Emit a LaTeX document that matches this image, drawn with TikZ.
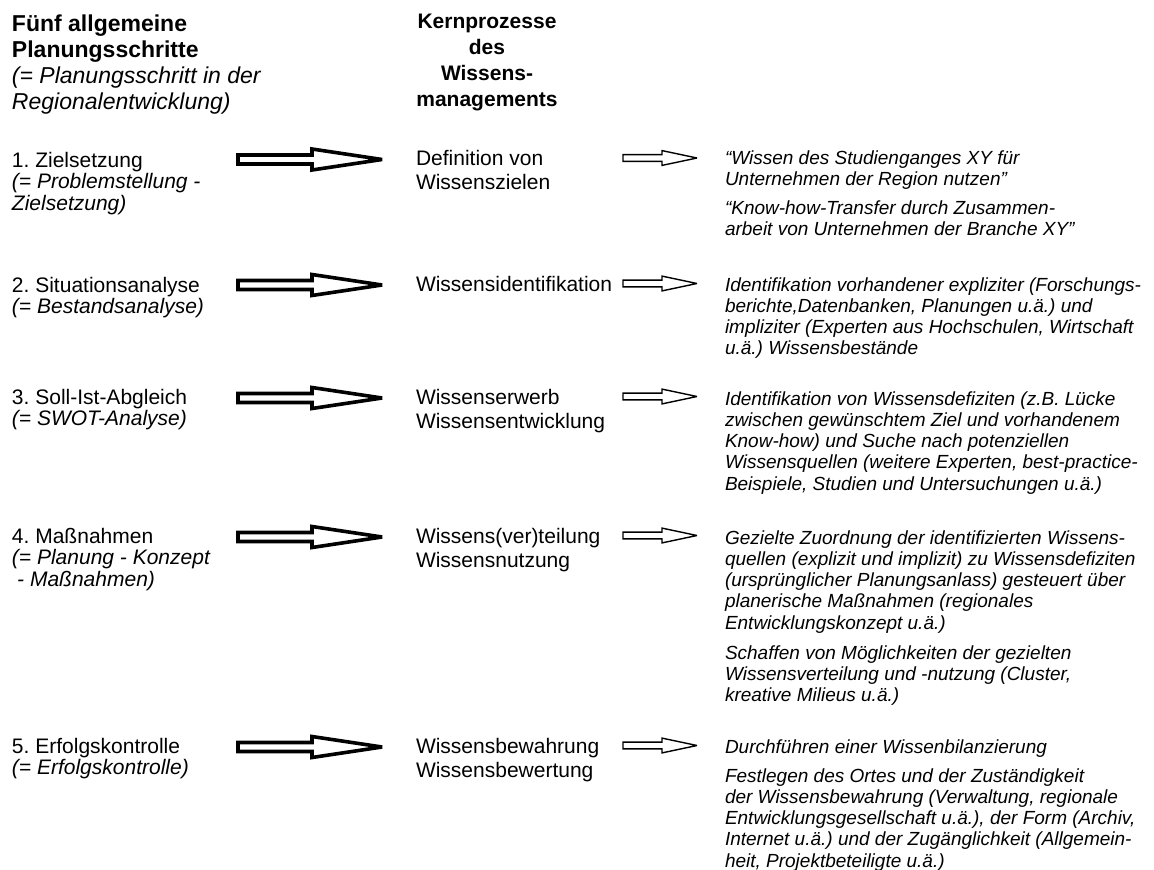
\documentclass[tikz,border=0pt]{standalone}
\usepackage{fontspec}
\setmainfont{Liberation Sans}
% multi-line blocks whose baseline is the first line
\newcommand{\lns}[1]{\begin{tabular}[t]{@{}l@{}}#1\end{tabular}}
\newcommand{\clns}[1]{\begin{tabular}[t]{@{}c@{}}#1\end{tabular}}
\begin{document}
\frenchspacing
\begin{tikzpicture}[x=1pt,y=-1pt,
  every node/.style={inner sep=0pt, outer sep=0pt},
  head/.style={anchor=base, font=\fontsize{21}{26}\selectfont\bfseries},
  headl/.style={anchor=base west, font=\fontsize{23}{26}\selectfont},
  step text/.style={anchor=base west, font=\fontsize{21}{21}\selectfont},
  core text/.style={anchor=base west, font=\fontsize{21}{24}\selectfont},
  note text/.style={anchor=base west, font=\fontsize{19}{21.3}\selectfont\itshape},
  bigblock/.pic={\draw[line width=3.6pt, line join=miter, miter limit=4]
      (0,-4.5) -- (74,-4.5) -- (74,-10.5) -- (144,0) -- (74,10.5) -- (74,4.5) -- (0,4.5) -- cycle;},
  smallblock/.pic={\draw[line width=1.4pt, line join=miter, miter limit=4]
      (0,-3.4) -- (39,-3.4) -- (39,-7.4) -- (74,0) -- (39,7.4) -- (39,3.4) -- (0,3.4) -- cycle;}
]
\useasboundingbox (0,0) rectangle (1154,870);

% column headings
\node[headl] (hL) at (12,31.5) {\lns{\textbf{Fünf allgemeine}\\\textbf{Planungsschritte}\\\textit{(= Planungsschritt in der}\\\textit{Regionalentwicklung)}}};
\node[head] (hM) at (487,28) {\clns{Kernprozesse\\des\\Wissens-\\managements}};

% planning steps
\node[step text] (s1) at (12,167) {\lns{1. Zielsetzung\\\textit{(= Problemstellung -}\\\textit{Zielsetzung)}}};
\node[step text] (s2) at (12,292) {\lns{2. Situationsanalyse\\\textit{(= Bestandsanalyse)}}};
\node[step text] (s3) at (12,404) {\lns{3. Soll-Ist-Abgleich\\\textit{(= SWOT-Analyse)}}};
\node[step text] (s4) at (12,543) {\lns{4. Maßnahmen\\\textit{(= Planung - Konzept}\\\textit{\hspace{0.25em}- Maßnahmen)}}};
\node[step text] (s5) at (12,753) {\lns{5. Erfolgskontrolle\\\textit{(= Erfolgskontrolle)}}};

% core processes
\node[core text] (k1) at (416,165) {\lns{Definition von\\Wissenszielen}};
\node[core text] (k2) at (416,291) {\lns{Wissensidentifikation}};
\node[core text] (k3) at (416,404) {\lns{Wissenserwerb\\Wissensentwicklung}};
\node[core text] (k4) at (416,543) {\lns{Wissens(ver)teilung\\Wissensnutzung}};
\node[core text] (k5) at (416,753) {\lns{Wissensbewahrung\\Wissensbewertung}};

% examples
\node[note text] (n1a) at (725,164) {\lns{“Wissen des Studienganges XY für\\Unternehmen der Region nutzen”}};
\node[note text] (n1b) at (725,214) {\lns{“Know-how-Transfer durch Zusammen-\\arbeit von Unternehmen der Branche XY”}};
\node[note text] (n2) at (725,291) {\lns{Identifikation vorhandener expliziter (Forschungs-\\berichte,Datenbanken, Planungen u.ä.) und\\impliziter (Experten aus Hochschulen, Wirtschaft\\u.ä.) Wissensbestände}};
\node[note text] (n3) at (725,405) {\lns{Identifikation von Wissensdefiziten (z.B. Lücke\\zwischen gewünschtem Ziel und vorhandenem\\Know-how) und Suche nach potenziellen\\Wissensquellen (weitere Experten, best-practice-\\Beispiele, Studien und Untersuchungen u.ä.)}};
\node[note text] (n4a) at (725,544) {\lns{Gezielte Zuordnung der identifizierten Wissens-\\quellen (explizit und implizit) zu Wissensdefiziten\\(ursprünglicher Planungsanlass) gesteuert über\\planerische Maßnahmen (regionales\\Entwicklungskonzept u.ä.)}};
\node[note text] (n4b) at (725,659) {\lns{Schaffen von Möglichkeiten der gezielten\\Wissensverteilung und -nutzung (Cluster,\\kreative Milieus u.ä.)}};
\node[note text] (n5a) at (725,753) {\lns{Durchführen einer Wissenbilanzierung}};
\node[note text] (n5b) at (725,782) {\lns{Festlegen des Ortes und der Zuständigkeit\\der Wissensbewahrung (Verwaltung, regionale\\Entwicklungsgesellschaft u.ä.), der Form (Archiv,\\Internet u.ä.) und der Zugänglichkeit (Allgemein-\\heit, Projektbeteiligte u.ä.)}};

% block arrows: step -> core process -> example
\foreach \r/\y in {1/159.5,2/285,3/398,4/537,5/747}{
  \coordinate (ba\r) at (238,\y);
  \coordinate (sa\r) at (623,\y-1.5);
  \pic at (ba\r) {bigblock};
  \pic at (sa\r) {smallblock};
}
\end{tikzpicture}
\end{document}
